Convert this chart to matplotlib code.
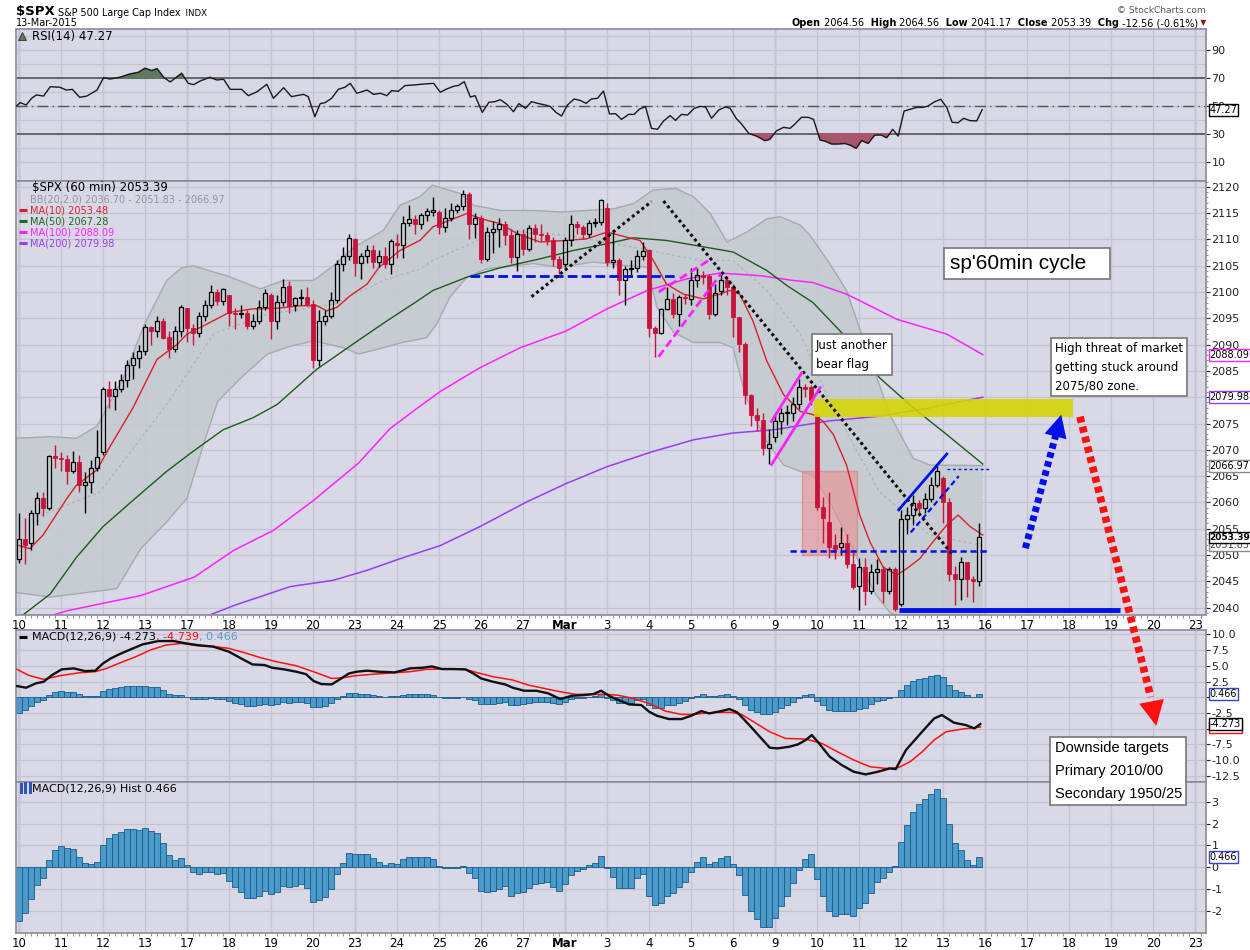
import numpy as np
import matplotlib.pyplot as plt
import matplotlib.transforms as mtransforms
from matplotlib.patches import Rectangle

plt.rcParams['font.family'] = ['DejaVu Sans']

# ---- data (60 min bars, 7 per trading day) ----
day_labels = ['10', '11', '12', '13', '17', '18', '19', '20', '23', '24', '25',
              '26', '27', 'Mar', '3', '4', '5', '6', '9', '10', '11', '12', '13',
              '16', '17', '18', '19', '20', '23']
week_start_days = [0, 4, 8, 13, 18, 23, 28]

opens = [2049.2, 2053.1, 2052.2, 2057.9, 2060.8, 2058.9, 2068.9,
         2068.5, 2068.3, 2066.0, 2067.7, 2063.3, 2063.9, 2066.5,
         2069.5, 2081.5, 2080.3, 2081.6, 2083.2, 2086.1, 2087.5,
         2088.8, 2093.4, 2092.6, 2094.5, 2091.4, 2089.1, 2092.5,
         2096.9, 2093.2, 2092.3, 2095.5, 2097.5, 2100.0, 2098.2,
         2099.4, 2096.0, 2095.8, 2096.0, 2093.6, 2094.4, 2097.1,
         2099.4, 2094.4, 2098.1, 2101.1, 2097.6, 2098.9, 2099.1,
         2097.8, 2087.1, 2094.4, 2095.5, 2098.5, 2105.3, 2106.9,
         2110.0, 2105.5, 2106.8, 2108.0, 2105.7, 2106.8, 2105.3,
         2109.3, 2109.0, 2113.2, 2113.8, 2113.0, 2114.7, 2115.3,
         2115.3, 2112.4, 2114.0, 2115.5, 2116.3, 2118.6, 2113.0,
         2114.0, 2106.2, 2111.4, 2112.0, 2112.9, 2110.8, 2106.6,
         2111.0, 2108.2, 2112.2, 2111.0, 2110.9, 2109.8, 2106.3,
         2105.4, 2109.8, 2113.0, 2112.4, 2111.1, 2113.1, 2113.3,
         2115.9, 2105.7, 2106.1, 2102.2, 2104.4, 2104.6, 2106.9,
         2108.0, 2093.1, 2092.3, 2096.7, 2098.7, 2095.8, 2099.1,
         2098.7, 2102.3, 2103.3, 2103.0, 2095.9, 2100.2, 2102.2,
         2101.0, 2095.2, 2090.1, 2080.5, 2076.7, 2075.7, 2070.4,
         2072.4, 2075.5, 2077.0, 2077.0, 2078.7, 2081.9, 2081.9,
         2076.4, 2059.2, 2056.2, 2052.0, 2051.5, 2052.2, 2048.3,
         2044.2, 2047.7, 2043.1, 2046.8, 2047.3, 2043.1, 2047.3,
         2040.7, 2056.8, 2057.7, 2059.8, 2059.0, 2060.6, 2063.4,
         2064.7, 2060.1, 2046.3, 2045.4, 2048.7, 2045.5, 2045.1]
highs = [2058.0, 2057.0, 2058.5, 2062.0, 2062.0, 2069.0, 2071.0,
         2069.5, 2069.0, 2069.7, 2069.0, 2065.8, 2068.0, 2073.8,
         2082.0, 2083.0, 2083.0, 2084.5, 2087.0, 2088.5, 2090.0,
         2094.0, 2093.5, 2095.5, 2095.0, 2092.5, 2093.5, 2097.5,
         2097.0, 2094.0, 2096.2, 2098.5, 2101.3, 2100.5, 2100.8,
         2099.5, 2097.0, 2097.5, 2096.5, 2095.8, 2098.5, 2100.6,
         2099.8, 2099.5, 2102.5, 2102.0, 2099.0, 2100.5, 2101.0,
         2098.5, 2096.5, 2096.5, 2100.0, 2106.0, 2108.5, 2111.0,
         2110.3, 2107.5, 2109.0, 2109.0, 2108.0, 2108.5, 2110.0,
         2111.0, 2114.5, 2116.6, 2114.7, 2115.0, 2116.0, 2118.0,
         2115.6, 2116.0, 2117.0, 2116.8, 2119.3, 2119.0, 2115.0,
         2114.7, 2112.4, 2113.5, 2114.0, 2113.5, 2112.0, 2111.8,
         2112.0, 2112.8, 2113.0, 2113.0, 2111.5, 2110.5, 2106.8,
         2110.5, 2114.6, 2113.5, 2112.8, 2113.6, 2114.0, 2117.6,
         2117.0, 2111.5, 2106.5, 2105.0, 2106.0, 2108.0, 2109.5,
         2108.2, 2093.5, 2097.0, 2101.0, 2099.8, 2099.5, 2099.6,
         2104.5, 2104.5, 2104.0, 2103.5, 2101.5, 2103.5, 2103.0,
         2101.5, 2095.3, 2090.5, 2080.7, 2078.0, 2077.0, 2074.0,
         2077.0, 2078.0, 2078.5, 2080.0, 2083.5, 2082.5, 2082.3,
         2077.0, 2061.0, 2062.0, 2054.0, 2055.3, 2054.0, 2050.5,
         2049.5, 2049.5, 2048.2, 2049.2, 2048.0, 2047.8, 2047.8,
         2058.5, 2059.2, 2061.5, 2060.5, 2061.8, 2064.8, 2066.9,
         2065.0, 2060.8, 2048.0, 2049.6, 2048.7, 2046.0, 2056.0]
lows = [2048.5, 2048.3, 2051.0, 2055.8, 2057.5, 2058.5, 2066.5,
        2066.0, 2063.5, 2065.5, 2062.0, 2057.9, 2061.7, 2065.9,
        2069.0, 2078.0, 2077.6, 2081.0, 2082.0, 2083.5, 2085.5,
        2088.0, 2090.0, 2091.5, 2091.0, 2087.5, 2088.5, 2091.5,
        2090.5, 2090.0, 2091.5, 2094.5, 2097.0, 2097.5, 2097.6,
        2093.5, 2093.0, 2095.0, 2093.0, 2093.0, 2094.0, 2096.5,
        2091.0, 2093.0, 2097.3, 2096.0, 2096.3, 2097.5, 2097.3,
        2085.5, 2086.0, 2093.8, 2095.0, 2098.0, 2104.0, 2106.0,
        2103.0, 2102.5, 2105.5, 2104.5, 2104.8, 2104.5, 2103.5,
        2106.5, 2106.5, 2112.5, 2111.0, 2112.0, 2113.5, 2114.5,
        2111.0, 2111.5, 2113.5, 2115.0, 2115.6, 2110.0, 2110.3,
        2105.5, 2105.8, 2107.5, 2108.5, 2109.0, 2105.5, 2104.0,
        2107.0, 2107.8, 2109.5, 2109.6, 2109.0, 2105.0, 2103.5,
        2104.7, 2108.7, 2111.0, 2110.0, 2110.5, 2112.3, 2112.8,
        2105.0, 2104.5, 2099.5, 2097.6, 2103.0, 2103.8, 2106.0,
        2091.5, 2087.7, 2092.0, 2096.5, 2095.0, 2093.6, 2097.8,
        2097.6, 2101.0, 2101.5, 2094.8, 2095.5, 2099.5, 2099.5,
        2091.5, 2088.5, 2078.8, 2074.6, 2073.6, 2069.0, 2067.3,
        2071.5, 2073.0, 2074.7, 2075.5, 2077.8, 2080.0, 2078.5,
        2058.5, 2052.3, 2049.5, 2049.3, 2050.0, 2047.5, 2043.5,
        2039.5, 2040.5, 2042.5, 2044.5, 2040.8, 2042.5, 2039.3,
        2040.4, 2054.0, 2055.8, 2057.5, 2058.0, 2060.0, 2063.0,
        2056.0, 2045.0, 2040.5, 2041.5, 2042.0, 2041.0, 2044.2]
closes = [2053.1, 2052.0, 2057.9, 2060.8, 2058.9, 2068.9, 2068.5,
          2068.3, 2066.0, 2067.6, 2063.3, 2063.9, 2066.5, 2068.7,
          2081.5, 2080.3, 2081.6, 2083.2, 2086.2, 2087.5, 2088.8,
          2093.4, 2092.6, 2094.5, 2091.3, 2089.1, 2092.5, 2097.2,
          2093.2, 2092.3, 2095.5, 2097.5, 2100.0, 2098.2, 2100.5,
          2096.0, 2095.8, 2096.0, 2093.6, 2094.4, 2097.1, 2099.8,
          2094.4, 2098.1, 2101.0, 2097.4, 2098.9, 2098.9, 2097.8,
          2087.1, 2094.4, 2095.5, 2098.5, 2105.3, 2106.9, 2110.3,
          2105.5, 2106.8, 2108.0, 2105.7, 2106.8, 2105.3, 2109.7,
          2109.0, 2113.2, 2113.8, 2113.0, 2114.7, 2115.4, 2115.5,
          2112.4, 2114.0, 2115.5, 2116.3, 2118.6, 2113.0, 2114.0,
          2106.2, 2111.4, 2112.0, 2112.9, 2110.8, 2106.6, 2111.0,
          2108.2, 2112.2, 2111.0, 2110.8, 2109.8, 2106.3, 2104.6,
          2109.8, 2113.0, 2112.4, 2111.1, 2113.1, 2113.3, 2117.5,
          2105.7, 2106.0, 2102.2, 2104.4, 2104.6, 2106.9, 2107.8,
          2093.1, 2092.3, 2096.7, 2098.7, 2095.8, 2099.1, 2098.9,
          2102.3, 2103.3, 2102.8, 2095.9, 2099.9, 2102.2, 2101.0,
          2095.2, 2090.1, 2080.5, 2076.7, 2075.7, 2070.4, 2071.2,
          2075.5, 2077.0, 2077.1, 2078.7, 2081.9, 2081.5, 2079.5,
          2059.2, 2057.0, 2051.5, 2051.2, 2052.2, 2048.3, 2043.9,
          2047.7, 2043.1, 2046.8, 2047.3, 2043.1, 2047.3, 2039.8,
          2056.8, 2057.7, 2059.8, 2059.0, 2060.6, 2063.4, 2066.0,
          2060.1, 2046.3, 2045.4, 2048.7, 2045.4, 2045.1, 2053.4]

# overlays: (bar index, value)
ma10_x = [0, 1.8, 4, 8, 9.6, 13, 15, 19, 23, 26.3, 28, 31.3, 35, 39, 43, 47, 49.6,
          51.3, 53, 55.2, 58, 60, 63.5, 66.8, 69, 74.6, 77.4, 80.2, 83, 86.8, 91.2,
          94.6, 98, 101.3, 103.5, 105.7, 107.9, 110.7, 114, 116.8, 118.4, 120.1,
          122.3, 124.6, 127.4, 130.2, 132.3, 134, 135.7, 137.9, 140.1, 141.8, 144,
          146.3, 147.9, 150.1, 152.3, 154.6, 156.5, 158.5, 160.6]
ma10_y = [2051.8, 2051.2, 2053.8, 2060.8, 2063.3, 2066.2, 2070.3, 2078.0, 2087.2,
          2090.0, 2092.0, 2093.9, 2096.1, 2096.8, 2096.9, 2097.4, 2097.4, 2096.4,
          2097.1, 2099.3, 2101.5, 2104.7, 2107.9, 2109.8, 2112.4, 2114.9, 2113.8,
          2113.0, 2111.1, 2109.5, 2109.8, 2110.1, 2111.4, 2110.4, 2109.8, 2106.0,
          2101.5, 2099.6, 2098.7, 2099.6, 2100.3, 2099.6, 2094.5, 2086.9, 2080.5,
          2077.3, 2076.7, 2075.4, 2072.9, 2067.1, 2057.6, 2052.5, 2047.7, 2046.2,
          2047.4, 2049.3, 2052.5, 2055.7, 2057.6, 2055.4, 2053.8]
ma50_x = [0.2, 5.2, 9.6, 14, 19, 24.6, 29, 34, 39, 43, 49.6, 56.8, 61.3, 66, 69,
          74.6, 80.2, 86.8, 92.4, 96.8, 102.4, 107.9, 113.5, 119, 124.6, 128,
          132.3, 137.9, 143.4, 149, 154.6, 160.6]
ma50_y = [2038.2, 2042.6, 2049.6, 2055.4, 2060.4, 2065.9, 2069.7, 2073.8, 2076.1,
          2078.6, 2085.3, 2091.0, 2094.5, 2098.0, 2100.3, 2102.8, 2104.6, 2106.3,
          2107.9, 2108.9, 2110.3, 2109.8, 2108.7, 2107.6, 2104.1, 2101.2, 2098.0,
          2091.3, 2083.7, 2078.0, 2072.9, 2067.3]
ma100_x = [4.5, 8, 13.5, 20.3, 29.2, 35.8, 42.4, 49.1, 56.6, 61.8, 66, 70.2, 76.8,
           83.5, 91.2, 98, 104.7, 111.3, 116.8, 123.5, 129, 132.3, 137.9, 146.3,
           154.6, 160.6]
ma100_y = [2038.2, 2039.4, 2040.7, 2042.3, 2045.8, 2050.9, 2054.7, 2060.4, 2067.5,
           2074.0, 2077.6, 2081.1, 2085.6, 2089.4, 2092.6, 2096.8, 2100.3, 2102.5,
           2103.6, 2103.1, 2102.2, 2101.8, 2099.6, 2094.8, 2092.0, 2088.1]
ma200_x = [30.9, 35.8, 45.2, 52.4, 58, 63.5, 70.2, 76.8, 84.6, 91.2, 98, 105.7,
           112.4, 119, 125.7, 135.1, 143.4, 151.8, 160.6]
ma200_y = [2038.2, 2040.4, 2044.0, 2045.2, 2047.1, 2049.3, 2051.8, 2055.4, 2060.1,
           2063.6, 2066.8, 2069.7, 2071.9, 2073.2, 2073.8, 2075.5, 2076.4, 2078.0,
           2080.0]
bb_up_x = [-0.5, 5.2, 9.6, 13, 17.4, 20.8, 24.6, 27.1, 29, 32.4, 34.6, 40.2, 44.1,
           49.1, 52.4, 55.8, 60.7, 63.5, 66.8, 68.9, 73.6, 75.7, 80.2, 85.7, 90.5,
           94.6, 99, 102.4, 105.7, 109.4, 112.4, 115.2, 118, 121.3, 124.6, 126.9,
           130.2, 131.8, 135.1, 137.9, 141.2, 145.1, 149, 151.8, 160.6]
bb_up_y = [2072.2, 2072.5, 2072.2, 2074.5, 2083.7, 2093.6, 2102.2, 2104.6, 2105.0,
           2103.8, 2103.1, 2100.6, 2102.2, 2102.2, 2105.0, 2108.5, 2111.7, 2116.5,
           2118.1, 2120.3, 2118.7, 2116.5, 2115.5, 2115.5, 2115.2, 2115.5, 2115.8,
           2116.8, 2119.4, 2119.7, 2118.1, 2114.9, 2109.5, 2111.4, 2113.9, 2114.3,
           2112.7, 2110.8, 2105.4, 2100.3, 2089.4, 2076.7, 2068.4, 2067.1, 2067.0]
bb_lo_x = [-0.5, 5.2, 16.3, 20.3, 24.6, 28, 30.9, 33.1, 37, 41.4, 45.2, 49.1, 54.1,
           56.6, 60.7, 63.5, 67.9, 69.6, 71.8, 74.6, 77.9, 85.7, 90.1, 95.7, 101.3,
           104.7, 106.3, 109.1, 112.4, 116.8, 119, 120.7, 122.3, 124.6, 127.4, 130.2,
           132.3, 135.1, 137.9, 140.7, 142.9, 145.1, 149, 160.6]
bb_lo_y = [2042.9, 2042.0, 2043.6, 2051.2, 2056.3, 2060.8, 2071.6, 2079.2, 2083.7,
           2088.2, 2089.7, 2090.7, 2089.4, 2088.2, 2089.4, 2090.3, 2091.3, 2093.9,
           2099.0, 2102.8, 2104.4, 2105.4, 2104.7, 2105.7, 2105.0, 2104.7, 2097.1,
           2092.3, 2090.4, 2090.4, 2089.4, 2081.8, 2076.7, 2071.6, 2067.1, 2065.9,
           2065.2, 2060.1, 2053.8, 2046.8, 2042.3, 2039.1, 2036.8, 2036.7]
bb_mid_x = [3.7, 13.5, 24.6, 32.4, 41.4, 52.4, 60.7, 66.8, 69, 80.2, 91.2, 102.4,
            113.5, 119, 124.6, 130.2, 135.1, 143.4, 151.8, 160.6]
bb_mid_y = [2057.6, 2062.0, 2078.6, 2092.0, 2095.8, 2097.7, 2102.2, 2104.4, 2106.0,
            2111.7, 2110.8, 2108.5, 2106.0, 2106.0, 2100.3, 2092.0, 2079.2, 2062.0,
            2053.8, 2051.8]

rsi_x = [-0.4, 0.2, 1.2, 2.1, 2.9, 4.1, 5.2, 6.8, 7.9, 8.9, 10.1, 11.3, 13.0, 14.1,
         15.2, 16.8, 18.5, 19.9, 21.0, 22.1, 23.0, 24.1, 25.2, 26.0, 27.1, 28.2,
         29.1, 30.2, 31.8, 33.0, 34.1, 35.2, 37.1, 38.2, 39.6, 41.3, 42.4, 44.1,
         45.4, 47.4, 48.2, 49.3, 50.2, 51.0, 52.1, 53.2, 54.3, 55.2, 56.3, 58.0,
         59.1, 60.2, 61.3, 62.1, 63.2, 64.3, 65.7, 67.4, 69.1, 70.2, 71.3, 72.4,
         73.2, 74.2, 75.2, 76.0, 77.2, 78.3, 79.3, 80.2, 81.3, 82.4, 83.3, 84.4,
         85.4, 86.6, 87.7, 88.5, 89.5, 90.4, 91.4, 92.5, 93.5, 94.5, 95.4, 96.4,
         97.4, 98.4, 99.4, 100.4, 101.6, 102.5, 103.4, 104.4, 105.4, 106.4, 107.4,
         108.5, 109.4, 110.4, 111.4, 112.5, 113.5, 114.4, 115.4, 116.6, 117.7,
         118.5, 119.5, 120.4, 121.6, 122.9, 124.3, 125.1, 126.2, 127.4, 128.5,
         129.3, 130.4, 131.5, 132.4, 133.5, 134.3, 135.4, 136.5, 137.6, 138.5,
         139.5, 140.4, 141.5, 142.6, 143.7, 144.6, 145.6, 146.5, 147.5, 148.5,
         149.6, 150.7, 151.5, 152.6, 153.6, 154.6, 155.5, 156.5, 157.4, 158.5,
         159.6, 160.5]
rsi_y = [49.9, 52.3, 50.6, 55.4, 57.8, 57.0, 63.7, 63.3, 61.3, 61.8, 56.1, 57.0,
         61.3, 70.2, 69.2, 70.4, 72.8, 74.0, 76.9, 75.2, 76.6, 70.4, 67.1, 69.7,
         73.3, 66.1, 65.2, 67.8, 70.4, 68.5, 69.0, 61.8, 61.8, 57.3, 59.9, 65.4,
         55.4, 63.0, 56.6, 58.2, 56.6, 42.2, 51.6, 52.3, 55.4, 61.8, 63.3, 66.1,
         59.0, 61.3, 58.2, 59.0, 57.3, 60.9, 60.4, 64.5, 64.9, 65.6, 66.1, 59.7,
         62.1, 64.0, 64.5, 67.3, 56.3, 57.3, 45.3, 52.5, 53.0, 54.4, 51.1, 45.8,
         51.6, 48.2, 53.0, 51.6, 50.6, 49.6, 45.3, 42.7, 50.6, 54.9, 53.9, 51.8,
         54.9, 55.4, 60.6, 44.2, 44.4, 40.3, 43.9, 43.9, 47.7, 49.4, 33.9, 33.2,
         39.1, 43.0, 39.6, 43.9, 43.4, 48.2, 49.6, 49.2, 41.1, 47.0, 49.2, 48.2,
         41.1, 37.0, 30.3, 28.4, 25.1, 26.0, 32.0, 34.6, 33.9, 37.0, 41.8, 41.8,
         40.3, 25.5, 24.8, 22.7, 22.7, 23.1, 21.9, 19.6, 25.1, 23.1, 29.1, 29.1,
         27.2, 33.2, 28.4, 46.3, 47.5, 48.9, 48.9, 49.9, 53.0, 54.7, 48.9, 38.2,
         37.9, 41.1, 39.4, 39.2, 47.27]

macd_x = [-0.3, 1.2, 2.8, 4.1, 5.5, 7.1, 9.1, 11.0, 12.7, 14.0, 15.3, 16.9, 18.6,
          20.6, 23.2, 25.8, 27.8, 29.7, 32.4, 35.0, 37.0, 38.9, 40.9, 42.2, 44.2,
          46.2, 47.8, 49.1, 50.4, 52.1, 53.7, 55.0, 56.3, 58.0, 60.0, 62.6, 65.2,
          67.2, 68.8, 70.5, 72.4, 74.4, 75.7, 77.0, 79.0, 81.0, 82.3, 84.2, 86.2,
          88.2, 90.2, 92.1, 94.1, 95.7, 97.0, 98.4, 99.9, 101.7, 103.7, 105.0,
          106.3, 108.3, 110.4, 112.0, 113.7, 115.0, 117.0, 118.4, 119.7, 121.7,
          123.7, 125.1, 126.4, 128.4, 129.8, 131.1, 132.1, 133.1, 135.1, 137.1,
          139.1, 141.1, 143.1, 145.1, 146.1, 147.8, 150.5, 152.5, 153.8, 155.8,
          157.8, 159.2, 160.2]
macd_y = [1.77, 1.51, 2.20, 2.46, 3.52, 4.43, 4.59, 4.16, 4.22, 5.38, 6.18, 6.92,
          7.61, 8.41, 8.94, 8.94, 8.57, 8.30, 8.04, 7.24, 6.18, 5.22, 5.12, 4.69,
          4.43, 4.06, 3.68, 2.57, 2.09, 2.04, 2.99, 3.79, 4.06, 4.22, 4.06, 3.95,
          4.59, 4.69, 4.90, 4.48, 4.48, 4.43, 3.79, 2.99, 2.46, 2.04, 1.51, 1.03,
          1.03, 0.61, -0.30, 0.23, 0.34, 0.50, 1.03, 0.18, -0.45, -1.15, -1.25,
          -2.31, -2.95, -3.48, -3.48, -2.95, -2.21, -2.58, -2.21, -1.89, -2.42,
          -4.44, -6.56, -8.04, -8.15, -7.88, -7.51, -6.82, -6.03, -7.09, -9.48,
          -10.80, -11.87, -12.29, -11.87, -11.34, -11.44, -8.41, -5.49, -3.38,
          -2.84, -4.06, -4.44, -4.97, -4.273]
signal_x = [-0.3, 1.5, 4.1, 6.8, 10.1, 12.7, 14.6, 16.6, 19.2, 21.9, 24.5, 27.1,
            29.7, 32.4, 35.0, 37.6, 40.3, 42.9, 46.2, 49.4, 52.1, 54.0, 56.0, 59.3,
            62.6, 65.2, 67.8, 70.5, 74.4, 76.4, 79.0, 82.3, 84.9, 87.5, 90.2, 92.8,
            95.4, 98.0, 99.9, 102.3, 105.0, 107.7, 110.4, 112.4, 114.4, 116.4,
            118.7, 120.4, 122.4, 125.1, 127.7, 131.1, 133.8, 136.4, 139.1, 141.8,
            144.5, 146.5, 148.5, 150.5, 152.5, 154.5, 157.2, 160.2]
signal_y = [4.43, 3.52, 2.83, 3.42, 3.90, 4.06, 4.59, 5.38, 6.34, 7.51, 8.30, 8.57,
            8.20, 8.09, 7.77, 7.08, 6.28, 5.65, 5.01, 3.95, 2.99, 3.10, 3.42, 3.68,
            3.90, 4.06, 4.43, 4.48, 4.43, 3.90, 3.26, 2.73, 1.93, 1.40, 0.87, 0.45,
            0.45, 0.45, 0.30, -0.19, -0.99, -2.21, -2.74, -2.74, -2.53, -2.42,
            -2.42, -2.74, -3.91, -5.50, -6.56, -6.67, -7.36, -8.69, -10.00, -11.07,
            -11.34, -11.23, -10.27, -8.69, -6.82, -5.50, -5.07, -4.739]
macd_hist = [-2.45, -2.10, -1.46, -0.81, -0.50, 0.32, 0.78,
             0.98, 0.87, 0.82, 0.46, 0.20, 0.15, 0.24,
             1.02, 1.33, 1.51, 1.62, 1.75, 1.75, 1.72,
             1.80, 1.68, 1.55, 1.10, 0.56, 0.34, 0.41,
             0.10, -0.23, -0.32, -0.23, -0.20, -0.29, -0.27,
             -0.62, -0.88, -1.11, -1.39, -1.42, -1.30, -1.08,
             -1.23, -1.11, -0.84, -0.88, -0.84, -0.78, -0.96,
             -1.57, -1.49, -1.34, -1.00, -0.32, 0.18, 0.67,
             0.62, 0.59, 0.59, 0.41, 0.26, 0.10, 0.18,
             0.14, 0.37, 0.46, 0.46, 0.46, 0.46, 0.38,
             0.05, -0.05, -0.05, -0.05, 0.05, -0.27, -0.47,
             -1.07, -1.11, -1.07, -1.00, -0.84, -1.30, -1.19,
             -1.14, -0.96, -0.78, -0.73, -0.69, -0.88, -1.07,
             -0.78, -0.35, -0.17, -0.09, 0.10, 0.18, 0.52,
             -0.05, -0.43, -0.96, -0.96, -0.96, -0.50, -0.32,
             -1.30, -1.72, -1.65, -1.30, -1.19, -0.91, -0.66,
             -0.20, 0.23, 0.46, 0.15, 0.23, 0.41, 0.52,
             0.14, -0.35, -1.27, -1.98, -2.36, -2.71, -2.71,
             -2.33, -1.77, -1.30, -0.73, -0.12, 0.37, 0.59,
             -0.55, -1.30, -2.00, -2.21, -2.15, -2.15, -2.23,
             -1.88, -1.65, -1.16, -0.66, -0.47, -0.20, 0.05,
             1.14, 1.94, 2.55, 2.88, 3.13, 3.34, 3.57,
             3.16, 1.97, 1.10, 0.78, 0.32, 0.11, 0.466]

# ---- styling ----
BG = '#d8d8e6'
GRID = '#c3c3d3'
GRID_DARK = '#a9a9bb'
RED = '#c8143c'
HIST = '#4a9bcb'
HIST_EDGE = '#1c5a82'
XMIN, XMAX = -0.5, 197.8
BARS = 7

day_pos = [BARS * d for d in range(len(day_labels))]
x = np.arange(len(closes))
o, h, l, c = map(np.array, (opens, highs, lows, closes))

fig = plt.figure(figsize=(12.5, 9.5), dpi=100)
L, W = 16 / 1250, 1190 / 1250
ax_r = fig.add_axes([L, 1 - 181 / 950, W, 152 / 950])
ax_p = fig.add_axes([L, 1 - 615 / 950, W, 434 / 950])
ax_m = fig.add_axes([L, 1 - 782 / 950, W, 152 / 950])
ax_h = fig.add_axes([L, 1 - 933 / 950, W, 151 / 950])


def style(ax, ylim, yticks, labels_bottom, fmt='{:g}', hidden=()):
    ax.set_facecolor(BG)
    ax.set_xlim(XMIN, XMAX)
    ax.set_ylim(*ylim)
    ax.yaxis.tick_right()
    ax.set_yticks(yticks)
    ax.set_yticklabels(['' if v in hidden else fmt.format(v) for v in yticks])
    ax.set_xticks(day_pos)
    ax.set_xticks(np.arange(0, 198), minor=True)
    ax.grid(True, which='major', color=GRID, lw=0.9, zorder=0)
    ax.set_axisbelow(True)
    for d in week_start_days:
        ax.axvline(BARS * d, color=GRID_DARK, lw=1.0, zorder=0.5)
    for s in ax.spines.values():
        s.set_color('#8a8a98')
        s.set_linewidth(1.2)
    ax.tick_params(axis='y', which='major', labelsize=8, length=3, pad=1,
                   colors='#222222')
    ax.tick_params(axis='x', which='both', length=0)
    if labels_bottom:
        ax.set_xticklabels(day_labels, fontsize=8.5)
        for t in ax.get_xticklabels():
            if t.get_text() == 'Mar':
                t.set_fontweight('bold')
        ax.tick_params(axis='x', which='major', length=0, pad=3)
        ax.tick_params(axis='x', which='minor', length=2, color='#777777')
    else:
        ax.set_xticklabels([])


def value_box(ax, y, txt, ec, color='black', weight='normal', size=7):
    tr = mtransforms.blended_transform_factory(ax.transAxes, ax.transData)
    ax.text(1.003, y, txt, transform=tr, fontsize=size, va='center', ha='left',
            color=color, fontweight=weight, zorder=10, clip_on=False,
            bbox=dict(boxstyle='square,pad=0.1', fc='white', ec=ec, lw=1))


def legend_line(ax, yy, col):
    ax.plot([0.0025, 0.0095], [yy, yy], transform=ax.transAxes, color=col,
            lw=2.2, solid_capstyle='butt')


# ---- RSI panel ----
style(ax_r, (-3.8, 105), [10, 30, 50, 70, 90], False)
ax_r.set_yticks([20, 40, 60, 80, 100], minor=True)
ax_r.grid(True, which='minor', axis='y', color=GRID, lw=0.9)
ax_r.tick_params(axis='y', which='minor', length=0)
rx, ry = np.array(rsi_x), np.array(rsi_y)
ax_r.fill_between(rx, ry, 70, where=ry > 70, interpolate=True, color='#5e7a5e', zorder=2)
ax_r.fill_between(rx, ry, 30, where=ry < 30, interpolate=True, color='#a8566e', zorder=2)
ax_r.axhline(70, color='#555555', lw=1.2, zorder=1)
ax_r.axhline(30, color='#555555', lw=1.2, zorder=1)
ax_r.axhline(50, color='#555555', lw=1.0, ls=(0, (8, 3, 1, 3)), zorder=1)
ax_r.plot(rx, ry, color='#1a1a1a', lw=1.0, zorder=3)
ax_r.text(0.0135, 0.952, 'RSI(14) 47.27', transform=ax_r.transAxes, fontsize=8.5,
          va='center', ha='left')
ax_r.plot([0.005], [0.952], transform=ax_r.transAxes, marker='^', ms=6,
          color='#5e7a5e', mec='#333333', mew=0.6)
value_box(ax_r, 47.27, '47.27', 'black')

# ---- price panel ----
style(ax_p, (2038.6, 2121.1), list(range(2040, 2121, 5)), True, hidden=(2080,))
ax_p.set_yticks(np.arange(2039, 2122, 1), minor=True)
ax_p.tick_params(axis='y', which='minor', length=1.5, colors='#777777')

band_x = np.r_[bb_up_x, bb_lo_x[::-1]]
band_y = np.r_[bb_up_y, bb_lo_y[::-1]]
ax_p.fill(band_x, band_y, color='#c3cbcf', alpha=0.85, zorder=1, lw=0)
ax_p.plot(bb_up_x, bb_up_y, color='#a4abb0', lw=1.0, zorder=1.2)
ax_p.plot(bb_lo_x, bb_lo_y, color='#a4abb0', lw=1.0, zorder=1.2)
ax_p.plot(bb_mid_x, bb_mid_y, color='#b0b4bc', lw=1.0, ls=(0, (2, 2)), zorder=1.2)

ax_p.add_patch(Rectangle((130.4, 2050.1), 9.2, 15.9, fc='#ea8f92', ec='#d77a7a',
                         alpha=0.6, lw=1, zorder=1.5))

ax_p.plot(ma200_x, ma200_y, color='#9a3cf0', lw=1.1, zorder=2)
ax_p.plot(ma100_x, ma100_y, color='#ff22ff', lw=1.1, zorder=2)
ax_p.plot(ma50_x, ma50_y, color='#1d5a1d', lw=1.0, zorder=2)
ax_p.plot(ma10_x, ma10_y, color='#d8202c', lw=1.0, zorder=2.1)

up = c >= o
body = np.where(np.abs(c - o) < 0.15, 0.15, c - o)
top = np.maximum(o, c)
bot = np.minimum(o, c)
ax_p.vlines(x[up], h[up], top[up], color='black', lw=1, zorder=3)
ax_p.vlines(x[up], bot[up], l[up], color='black', lw=1, zorder=3)
ax_p.vlines(x[~up], l[~up], h[~up], color=RED, lw=1, zorder=3)
ax_p.bar(x[up], body[up], bottom=o[up], width=0.72, fill=False, edgecolor='black',
         lw=0.9, zorder=3.2)
ax_p.bar(x[~up], body[~up], bottom=o[~up], width=0.72, color=RED, edgecolor=RED,
         lw=0.6, zorder=3.2)

# drawn annotations
ax_p.add_patch(Rectangle((132.4, 2076.2), 43.3, 3.4, fc='#d4d400', alpha=0.88,
                         lw=0, zorder=4))
ax_p.hlines(2103.1, 75.2, 109.3, colors='#0010e8', lw=2, linestyles=(0, (3.5, 1.5)), zorder=5)
ax_p.plot([85.4, 105.4], [2099.1, 2117.2], color='#111111', lw=2.2, ls=(0, (1, 1)), zorder=5)
ax_p.plot([107.4, 155.4], [2117.3, 2050.3], color='#111111', lw=2.2, ls=(0, (1, 1)), zorder=5)
ax_p.plot([106.6, 117.0], [2087.7, 2103.5], color='#ff22ff', lw=2, ls=(0, (3, 1.5)), zorder=5)
ax_p.plot([106.6, 115.2], [2100.0, 2106.2], color='#ff22ff', lw=2, ls=(0, (3, 1.5)), zorder=5)
ax_p.plot([125.4, 130.4], [2075.4, 2084.6], color='#ff22ff', lw=2, zorder=5)
ax_p.plot([125.4, 133.5], [2067.2, 2081.8], color='#ff22ff', lw=2, zorder=5)
ax_p.hlines(2050.8, 128.5, 161.3, colors='#0010e8', lw=1.8, linestyles=(0, (2.5, 1.5)), zorder=5)
ax_p.plot([146.6, 154.6], [2058.6, 2069.2], color='#0010e8', lw=2, zorder=5)
ax_p.plot([148.6, 156.6], [2054.3, 2065.0], color='#0010e8', lw=1.6, ls=(0, (2.5, 1.5)), zorder=5)
ax_p.hlines(2066.3, 154.6, 161.6, colors='#0010e8', lw=1, linestyles=(0, (2, 2)), zorder=5)
ax_p.hlines(2039.6, 146.6, 183.5, colors='#0010e8', lw=3.5, zorder=5)

# blue dotted arrow up to the 2075/80 zone
ax_p.plot([167.7, 173.0], [2051.3, 2073.8], color='#0010e8', lw=5,
          ls=(0, (0.8, 0.55)), solid_capstyle='butt', zorder=6)
ax_p.annotate('', xy=(173.8, 2077.2), xytext=(172.9, 2073.3),
              arrowprops=dict(arrowstyle='-|>,head_length=0.9,head_width=0.45',
                              color='#0010e8', lw=0, mutation_scale=18), zorder=6)

bbox_kw = dict(boxstyle='square,pad=0.35', fc='white', ec='#777777', lw=1.2)
ax_p.text(155.2, 2105.4, "sp'60min cycle   ", fontsize=15, family='Liberation Sans',
          va='center', ha='left', zorder=7, bbox=dict(boxstyle='square,pad=0.3',
                                                    fc='white', ec='#777777', lw=1.2))
ax_p.text(132.8, 2088.1, 'Just another\nbear flag', fontsize=8.5, va='center',
          ha='left', linespacing=1.6, zorder=7, bbox=bbox_kw)
ax_p.text(172.6, 2085.7, 'High threat of market\ngetting stuck around\n2075/80 zone.',
          fontsize=8.5, va='center', ha='left', linespacing=1.55, zorder=7, bbox=bbox_kw)

# legend
ax_p.text(0.0135, 0.984, '$SPX (60 min) 2053.39', transform=ax_p.transAxes,
          fontsize=8.5, va='center', ha='left')
leg = [('BB(20,2.0) 2036.70 - 2051.83 - 2066.97', '#8f959a'),
       ('MA(10) 2053.48', '#d8202c'), ('MA(50) 2067.28', '#1d6a1d'),
       ('MA(100) 2088.09', '#ff22ff'), ('MA(200) 2079.98', '#9a3cf0')]
for k, (txt, col) in enumerate(leg):
    yy = 0.9585 - 0.02535 * k
    ax_p.text(0.0115, yy, txt, transform=ax_p.transAxes, fontsize=7, color=col,
              va='center', ha='left')
    if k > 0:
        legend_line(ax_p, yy, col)

value_box(ax_p, 2088.09, '2088.09', '#ff22ff')
value_box(ax_p, 2079.98, '2079.98', '#9a3cf0')
value_box(ax_p, 2066.97, '2066.97', '#888888')
value_box(ax_p, 2051.83, '2051.83', '#888888', color='#444444')
value_box(ax_p, 2053.39, '2053.39', 'black', weight='bold', size=6.5)

# ---- MACD panel ----
mt = [-12.5, -10.0, -7.5, -5.0, -2.5, 0.0, 2.5, 5.0, 7.5, 10.0]
style(ax_m, (-13.5, 10.7), mt, False, fmt='{:.1f}', hidden=(0.0, -5.0))
ax_m.bar(x, macd_hist, width=0.9, color=HIST, edgecolor=HIST_EDGE, lw=0.6, zorder=2)
ax_m.plot(signal_x, signal_y, color='#ff1010', lw=1.1, zorder=3)
ax_m.plot(macd_x, macd_y, color='#111111', lw=1.7, zorder=4)
t1 = ax_m.text(0.0135, 0.954, 'MACD(12,26,9) -4.273', transform=ax_m.transAxes,
               fontsize=8, va='center', ha='left', zorder=8)
t2 = ax_m.annotate(', -4.739', xy=(1, 0.5), xycoords=t1, va='center', ha='left',
                   fontsize=8, color='#ff1010', zorder=8)
ax_m.annotate(', 0.466', xy=(1, 0.5), xycoords=t2, va='center', ha='left',
              fontsize=8, color='#5a9cc8', zorder=8)
legend_line(ax_m, 0.954, 'black')
value_box(ax_m, 0.466, '0.466', '#3344cc')
value_box(ax_m, -4.739, '-4.739', '#ff1010', color='#ff1010')
value_box(ax_m, -4.273, '-4.273', 'black')

# ---- MACD histogram panel ----
style(ax_h, (-3.0, 3.9), [-2, -1, 0, 1, 2, 3], True)
ax_h.bar(x, macd_hist, width=0.9, color=HIST, edgecolor=HIST_EDGE, lw=0.6, zorder=2)
ax_h.text(0.0135, 0.954, 'MACD(12,26,9) Hist 0.466', transform=ax_h.transAxes,
          fontsize=8, va='center', ha='left')
for k, hh in enumerate([0.5, 0.9, 0.7]):
    ax_h.bar(0.4 + 0.75 * k, hh, width=0.5, bottom=3.35, color='#3355bb', zorder=5)
value_box(ax_h, 0.466, '0.466', '#3344cc')

# red dotted arrow from the zone down towards the targets (crosses panels)
ax_h.plot([176.8, 188.6], [2076.3, 2023.0], transform=ax_p.transData, clip_on=False,
          color='#ff1010', lw=5.5, ls=(0, (0.8, 0.55)), solid_capstyle='butt', zorder=9)
ax_h.annotate('', xy=(189.6, 2017.0), xycoords=ax_p.transData,
              xytext=(188.5, 2023.5), textcoords=ax_p.transData,
              arrowprops=dict(arrowstyle='-|>,head_length=1.0,head_width=0.5',
                              color='#ff1010', lw=0, mutation_scale=18),
              annotation_clip=False, zorder=9)
ax_h.text(172.6, -7.0, 'Downside targets\nPrimary 2010/00\nSecondary 1950/25',
          transform=ax_m.transData, fontsize=10.5, family='Liberation Sans',
          va='top', ha='left', linespacing=1.8, zorder=9,
          bbox=dict(boxstyle='square,pad=0.3', fc='white', ec='#777777', lw=1.2))

# ---- header ----
hd = ax_r.annotate('$SPX', xy=(16 / 1250, 1 - 15 / 950), xycoords='figure fraction',
                   fontsize=9.5, fontweight='bold', va='baseline', ha='left')
hd = ax_r.annotate(' S&P 500 Large Cap Index', xy=(1, 0), xycoords=hd,
                   fontsize=6.9, va='bottom', ha='left')
ax_r.annotate('  INDX', xy=(1, 0), xycoords=hd, fontsize=6.2, va='bottom', ha='left')
ax_r.annotate('13-Mar-2015', xy=(16 / 1250, 1 - 23.5 / 950), xycoords='figure fraction',
              fontsize=7, va='center', ha='left')
ax_r.annotate('\u00a9 StockCharts.com', xy=(1206 / 1250, 1 - 10.5 / 950),
              xycoords='figure fraction', fontsize=6.5, color='#555555',
              va='center', ha='right')

pieces = [('Open', 'bold'), (' 2064.56', 'normal'), ('  High', 'bold'),
          (' 2064.56', 'normal'), ('  Low', 'bold'), (' 2041.17', 'normal'),
          ('  Close', 'bold'), (' 2053.39', 'normal'), ('  Chg', 'bold'),
          (' -12.56 (-0.61%)', 'normal')]
prev = ax_r.annotate(' \u25bc', xy=(1206 / 1250, 1 - 23 / 950), xycoords='figure fraction',
                     fontsize=5.5, color='#8b1a1a', va='center', ha='right')
for txt, wt in pieces[::-1]:
    prev = ax_r.annotate(txt, xy=(0, 0.5), xycoords=prev, fontsize=7.0,
                         fontweight=wt, va='center', ha='right')

fig.savefig('out.png', dpi=100, facecolor='white')
